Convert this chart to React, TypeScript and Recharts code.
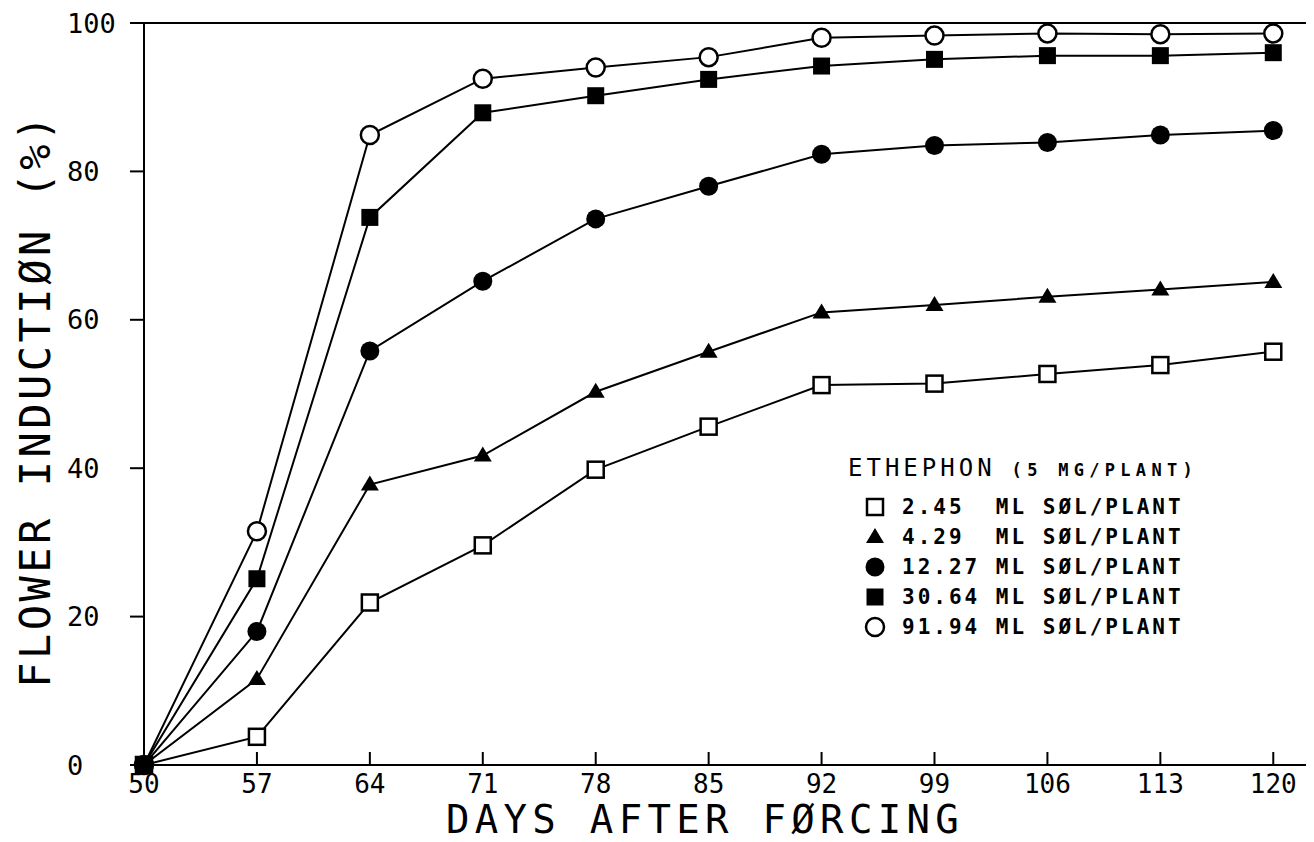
import { LineChart, Line, XAxis, YAxis, ReferenceLine, Legend } from "recharts";

// days after forcing
const days = [50, 57, 64, 71, 78, 85, 92, 99, 106, 113, 120];
const yTicks = [0, 20, 40, 60, 80, 100];

// flower induction (%) per ethephon solution volume
const sol245 = [0, 3.8, 21.9, 29.6, 39.8, 45.6, 51.2, 51.4, 52.7, 53.9, 55.7];
const sol429 = [0, 11.6, 37.8, 41.7, 50.3, 55.7, 61.0, 62.0, 63.1, 64.1, 65.1];
const sol1227 = [0, 18.0, 55.8, 65.2, 73.6, 78.0, 82.3, 83.5, 83.9, 84.9, 85.5];
const sol3064 = [0, 25.1, 73.8, 87.9, 90.2, 92.4, 94.2, 95.1, 95.6, 95.6, 96.0];
const sol9194 = [0, 31.5, 84.9, 92.5, 94.0, 95.4, 98.0, 98.3, 98.6, 98.5, 98.6];

const series = [
  { key: "s245", label: "2.45  ML SØL/PLANT", values: sol245, shape: "openSquare" },
  { key: "s429", label: "4.29  ML SØL/PLANT", values: sol429, shape: "triangle" },
  { key: "s1227", label: "12.27 ML SØL/PLANT", values: sol1227, shape: "dot" },
  { key: "s3064", label: "30.64 ML SØL/PLANT", values: sol3064, shape: "square" },
  { key: "s9194", label: "91.94 ML SØL/PLANT", values: sol9194, shape: "openCircle" },
];

// filled square ends up on top at the origin
const drawOrder = ["s245", "s429", "s1227", "s9194", "s3064"];

const data = days.map((day, i) => {
  const row: Record<string, number> = { day };
  series.forEach((s) => (row[s.key] = s.values[i]));
  return row;
});

const MONO = "'DejaVu Sans Mono', monospace";

function Marker({ cx, cy, shape }: { cx: number; cy: number; shape: string }) {
  if (cx == null || cy == null) return null;
  switch (shape) {
    case "openSquare":
      return <rect x={cx - 8} y={cy - 8} width={16} height={16} fill="#fff" stroke="#000" strokeWidth={2.5} />;
    case "triangle":
      return <polygon points={`${cx},${cy - 9} ${cx - 9},${cy + 6} ${cx + 9},${cy + 6}`} fill="#000" />;
    case "dot":
      return <circle cx={cx} cy={cy} r={9.5} fill="#000" />;
    case "square":
      return <rect x={cx - 8.5} y={cy - 8.5} width={17} height={17} fill="#000" />;
    default:
      return <circle cx={cx} cy={cy} r={9} fill="#fff" stroke="#000" strokeWidth={2.5} />;
  }
}

function DayTick({ x, y, payload }: any) {
  return (
    <g>
      <line x1={x} y1={y} x2={x} y2={y - 13} stroke="#000" strokeWidth={2} />
      <text x={x} y={y + 19} textAnchor="middle" dominantBaseline="central" fontFamily={MONO} fontSize={26} fill="#000">
        {payload.value}
      </text>
    </g>
  );
}

function PctTick({ x, y, payload }: any) {
  return (
    <text x={x - 63} y={y} textAnchor="start" dominantBaseline="central" fontFamily={MONO} fontSize={27} fill="#000">
      {payload.value}
    </text>
  );
}

function YTitle({ viewBox }: any) {
  const cx = viewBox.x + 27;
  const cy = viewBox.y + viewBox.height / 2 + 6;
  return (
    <text x={cx} y={cy} transform={`rotate(-90 ${cx} ${cy})`} textAnchor="middle" dominantBaseline="central"
      fontFamily={MONO} fontSize={42} letterSpacing={3.5} fill="#000">
      FLOWER INDUCTIØN (%)
    </text>
  );
}

function XTitle({ viewBox }: any) {
  const cx = viewBox.x + viewBox.width / 2 - 23;
  const cy = viewBox.y + 54;
  return (
    <text x={cx} y={cy} textAnchor="middle" dominantBaseline="central"
      fontFamily={MONO} fontSize={39} letterSpacing={5.3} fill="#000">
      DAYS AFTER FØRCING
    </text>
  );
}

function EthephonLegend() {
  return (
    <div style={{ fontFamily: MONO, color: "#000" }}>
      <div style={{ height: 24, lineHeight: "24px", whiteSpace: "pre" }}>
        <span style={{ fontSize: 24, letterSpacing: 4 }}>ETHEPHON</span>
        <span style={{ fontSize: 17, fontWeight: "bold", letterSpacing: 5.3, marginLeft: 16 }}>(5 MG/PLANT)</span>
      </div>
      <div style={{ marginTop: 12 }}>
        {series.map((s) => (
          <div key={s.key} style={{ display: "flex", alignItems: "center", height: 30 }}>
            <svg width={22} height={22} style={{ marginLeft: 16 }}>
              <Marker cx={11} cy={11} shape={s.shape} />
            </svg>
            <span style={{ marginLeft: 16, fontSize: 21, fontWeight: "bold", letterSpacing: 3, whiteSpace: "pre" }}>
              {s.label}
            </span>
          </div>
        ))}
      </div>
    </div>
  );
}

export default function App() {
  // pull the chart up over the body margin so the bottom title has room
  return (
    <div style={{ width: 1306, height: 842, marginTop: -8, background: "#fff" }}>
      <LineChart width={1306} height={842} data={data} margin={{ top: 23, right: 2, bottom: 0, left: 0 }}>
        <XAxis
          type="number"
          dataKey="day"
          domain={[50, 122.4]}
          ticks={days}
          interval={0}
          tickLine={false}
          tickSize={0}
          tickMargin={0}
          tick={<DayTick />}
          axisLine={{ stroke: "#000", strokeWidth: 2 }}
          height={77}
          label={{ content: <XTitle /> }}
        />
        <YAxis
          type="number"
          domain={[0, 100]}
          ticks={yTicks}
          interval={0}
          tickSize={14}
          tickMargin={0}
          tick={<PctTick />}
          tickLine={{ stroke: "#000", strokeWidth: 2 }}
          axisLine={{ stroke: "#000", strokeWidth: 2 }}
          width={136}
          label={{ content: <YTitle /> }}
        />
        <ReferenceLine y={100} stroke="#000" strokeWidth={2} />
        <ReferenceLine x={122.4} stroke="#000" strokeWidth={2} />
        {drawOrder.map((k) => {
          const s = series.find((q) => q.key === k)!;
          return (
            <Line
              key={s.key}
              type="linear"
              dataKey={s.key}
              stroke="#000"
              strokeWidth={2}
              isAnimationActive={false}
              activeDot={false}
              dot={(p: any) => <Marker key={`${s.key}-${p.index}`} cx={p.cx} cy={p.cy} shape={s.shape} />}
            />
          );
        })}
        <Legend
          layout="horizontal"
          verticalAlign="middle"
          align="center"
          content={<EthephonLegend />}
          wrapperStyle={{ position: "absolute", left: 840, top: 456, width: 420 }}
        />
      </LineChart>
    </div>
  );
}
